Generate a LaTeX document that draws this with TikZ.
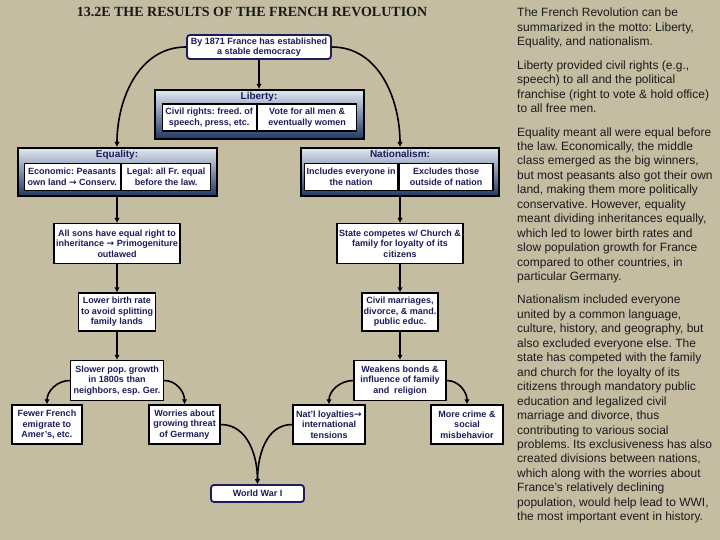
\documentclass[tikz,border=0pt]{standalone}
\usepackage{fontspec}
\setmainfont{Liberation Sans}
\newfontfamily\titlefont{Liberation Serif}
\newfontfamily\arrowfont{DejaVu Sans}
\usepackage{tikz}
\usetikzlibrary{positioning,arrows.meta}
\definecolor{tanback}{RGB}{197,189,162}
\definecolor{inknavy}{RGB}{28,28,92}
\definecolor{gradtop}{RGB}{226,232,242}
\definecolor{gradbot}{RGB}{32,56,102}
\definecolor{bodyink}{RGB}{26,26,26}
\newcommand{\rto}{{\arrowfont\bfseries →}}
\frenchspacing

\begin{document}
\begin{tikzpicture}[
    x=1pt, y=-1pt,
    note/.style={draw=black, line width=1.4pt, fill=white, align=center, text=inknavy,
        font=\bfseries\fontsize{9}{10.5}\selectfont, inner xsep=1pt, inner ysep=2pt},
    cell/.style={note, minimum height=27pt},
    catbox/.style={draw=black, line width=2pt, top color=gradtop, bottom color=gradbot},
    cattitle/.style={text=inknavy, font=\bfseries\fontsize{10}{12}\selectfont, inner sep=0pt},
    keybox/.style={draw=inknavy, line width=1.8pt, rounded corners=3pt, fill=white, align=center,
        text=inknavy, font=\bfseries\fontsize{9}{10.5}\selectfont, inner sep=1pt},
    arrow/.style={-{Latex[length=5pt,width=5.5pt]}, line width=1.6pt, draw=black}
]
\fill[tanback] (0,0) rectangle (720,540);
\useasboundingbox (0,0) rectangle (720,540);

\node[font=\titlefont\bfseries\fontsize{14}{16}\selectfont, text=black!90] (title) at (252,12)
    {13.2E THE RESULTS OF THE FRENCH REVOLUTION};

\node[keybox, minimum width=144pt, minimum height=24pt] (dem) at (259,47)
    {By 1871 France has established\\a stable democracy};

\node[catbox, minimum width=209pt, minimum height=49pt, below=29pt of dem] (liberty) {};
\node[cattitle, below=3pt of liberty.north] (libT) {Liberty:};
\node[cell, minimum width=94pt, above right=8pt and 8pt of liberty.south west] (libL)
    {Civil rights: freed. of\\speech, press, etc.};
\node[cell, minimum width=99pt, right=0pt of libL] (libR) {Vote for all men \&\\eventually women};

\node[catbox, minimum width=199pt, minimum height=48pt] (equality) at (117,172) {};
\node[cattitle, below=3pt of equality.north] (eqT) {Equality:};
\node[cell, minimum width=96pt, above right=6pt and 7pt of equality.south west] (eqL)
    {Economic: Peasants\\own land \rto{} Conserv.};
\node[cell, minimum width=89pt, right=0pt of eqL] (eqR) {Legal: all Fr. equal\\before the law.};

\node[catbox, minimum width=198pt, minimum height=48pt] (nation) at (400,172) {};
\node[cattitle, below=3pt of nation.north] (natT) {Nationalism:};
\node[cell, minimum width=93pt, above right=6pt and 4pt of nation.south west] (natL)
    {Includes everyone in\\the nation};
\node[cell, minimum width=94pt, right=0pt of natL] (natR) {Excludes those\\outside of nation};

\node[note, minimum width=126pt, minimum height=40pt, below=26pt of equality] (sons)
    {All sons have equal right to\\inheritance \rto{} Primogeniture\\outlawed};
\node[note, minimum width=77pt, minimum height=38pt, below=28pt of sons] (lower)
    {Lower birth rate\\to avoid splitting\\family lands};
\node[note, minimum width=93pt, minimum height=40pt, below=28pt of lower] (slower)
    {Slower pop. growth\\in 1800s than\\neighbors, esp. Ger.};

\node[note, minimum width=126pt, minimum height=40pt, below=26pt of nation] (state)
    {State competes w/ Church \&\\family for loyalty of its\\citizens};
\node[note, minimum width=76pt, minimum height=38pt, below=28pt of state] (civil)
    {Civil marriages,\\divorce, \& mand.\\public educ.};
\node[note, minimum width=92pt, minimum height=40pt, below=28pt of civil] (weaken)
    {Weakens bonds \&\\influence of family\\and~ religion};

\node[note, minimum width=70pt, minimum height=39pt] (fewer) at (47,424.5)
    {Fewer French\\emigrate to\\Amer’s, etc.};
\node[note, minimum width=71pt, minimum height=39pt] (worry) at (184.5,424.5)
    {Worries about\\growing threat\\of Germany};
\node[note, minimum width=72pt, minimum height=39pt] (natl) at (329,424.5)
    {Nat’l loyalties\rto\\international\\tensions};
\node[note, minimum width=72pt, minimum height=39pt] (crime) at (467,424.5)
    {More crime \&\\social\\misbehavior};

\node[keybox, minimum width=93pt, minimum height=17pt] (wwi) at (257.5,493.5) {World War I};

\draw[arrow] (dem) -- (liberty);
\draw[arrow] (dem.west) to[out=180,in=90] (equality.north);
\draw[arrow] (dem.east) to[out=0,in=90] (nation.north);
\draw[arrow] (equality) -- (sons);
\draw[arrow] (sons) -- (lower);
\draw[arrow] (lower) -- (slower);
\draw[arrow] (nation) -- (state);
\draw[arrow] (state) -- (civil);
\draw[arrow] (civil) -- (weaken);
\draw[arrow] (slower.west) to[out=180,in=90] (fewer.north);
\draw[arrow] (slower.east) to[out=0,in=90] (worry.north);
\draw[arrow] (weaken.west) to[out=180,in=90] (natl.north);
\draw[arrow] (weaken.east) to[out=0,in=90] (crime.north);
\draw[arrow] (worry.east) to[out=0,in=90] (wwi.north);
\draw[arrow] (natl.west) to[out=180,in=90] (wwi.north);

\node[anchor=north west, align=left, inner sep=0pt, text=bodyink,
    font=\fontsize{12}{14.45}\selectfont] (notes) at (517,8)
    {The French Revolution can be\\
     summarized in the motto: Liberty,\\
     Equality, and nationalism.\\[9pt]
     Liberty provided civil rights (e.g.,\\
     speech) to all and the political\\
     franchise (right to vote \& hold office)\\
     to all free men.\\[9pt]
     Equality meant all were equal before\\
     the law. Economically, the middle\\
     class emerged as the big winners,\\
     but most peasants also got their own\\
     land, making them more politically\\
     conservative. However, equality\\
     meant dividing inheritances equally,\\
     which led to lower birth rates and\\
     slow population growth for France\\
     compared to other countries, in\\
     particular Germany.\\[9pt]
     Nationalism included everyone\\
     united by a common language,\\
     culture, history, and geography, but\\
     also excluded everyone else. The\\
     state has competed with the family\\
     and church for the loyalty of its\\
     citizens through mandatory public\\
     education and legalized civil\\
     marriage and divorce, thus\\
     contributing to various social\\
     problems. Its exclusiveness has also\\
     created divisions between nations,\\
     which along with the worries about\\
     France’s relatively declining\\
     population, would help lead to WWI,\\
     the most important event in history.};
\end{tikzpicture}
\end{document}
